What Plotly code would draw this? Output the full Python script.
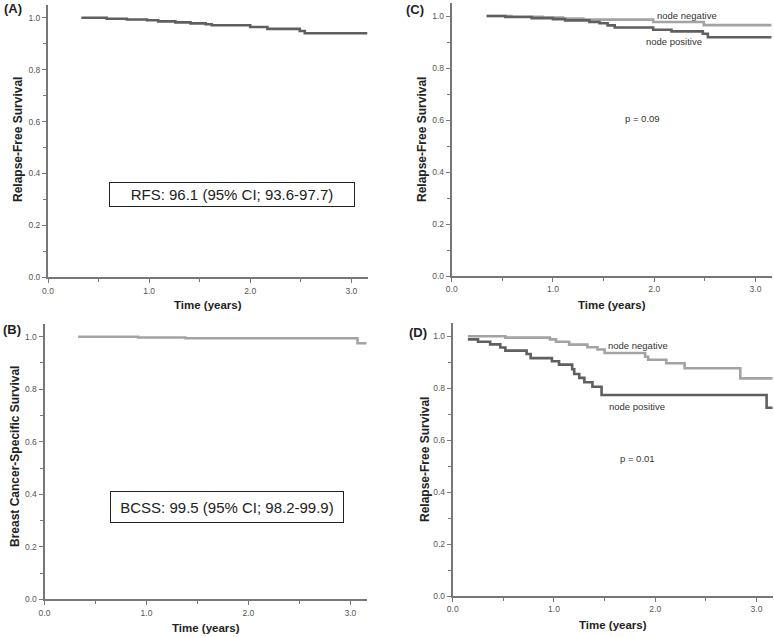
import plotly.graph_objects as go

W, H = 774, 637

# ---------------- data ----------------
a_time = [0.33, 0.58, 0.78, 0.98, 1.09, 1.26, 1.41, 1.56, 1.62, 2.00, 2.17, 2.49, 2.54, 3.16]
a_surv = [1.000, 0.996, 0.993, 0.990, 0.986, 0.982, 0.978, 0.975, 0.971, 0.964, 0.957, 0.949, 0.940, 0.940]

b_time = [0.33, 0.92, 1.38, 3.07, 3.16]
b_surv = [1.000, 0.997, 0.994, 0.975, 0.975]

c_neg_time = [0.345, 0.59, 0.90, 1.10, 1.30, 1.99, 2.49, 3.16]
c_neg_surv = [1.000, 0.997, 0.994, 0.990, 0.986, 0.977, 0.965, 0.965]
c_pos_time = [0.345, 0.53, 0.79, 1.00, 1.12, 1.36, 1.46, 1.54, 1.61, 1.99, 2.17, 2.48, 2.53, 3.16]
c_pos_surv = [1.000, 0.996, 0.992, 0.988, 0.983, 0.977, 0.972, 0.964, 0.956, 0.947, 0.941, 0.932, 0.918, 0.918]

d_neg_time = [0.15, 0.52, 0.96, 1.02, 1.15, 1.33, 1.43, 1.50, 1.90, 1.93, 2.11, 2.29, 2.84, 3.16]
d_neg_surv = [1.000, 0.995, 0.988, 0.979, 0.968, 0.958, 0.949, 0.936, 0.921, 0.910, 0.896, 0.877, 0.838, 0.838]
d_pos_time = [0.15, 0.25, 0.37, 0.47, 0.52, 0.73, 0.77, 0.98, 1.05, 1.18, 1.20, 1.25, 1.30, 1.38, 1.47, 3.10, 3.16]
d_pos_surv = [0.988, 0.979, 0.969, 0.957, 0.945, 0.932, 0.916, 0.904, 0.891, 0.873, 0.855, 0.840, 0.823, 0.806, 0.774, 0.725, 0.725]

x_tickvals = [0, 1, 2, 3]
x_ticktext = ["0.0", "1.0", "2.0", "3.0"]
y_tickvals = [0, 0.2, 0.4, 0.6, 0.8, 1.0]
y_ticktext = ["0.0", "0.2", "0.4", "0.6", "0.8", "1.0"]

DARK = "#5f5f5f"
LIGHT = "#a3a3a3"
AXC = "#777777"
FONT = "Liberation Sans, Arial, sans-serif"

def px(x):
    return x / W

def py(y):
    return 1 - y / H

# panel geometry in pixels: (x_left, x_right, y_zero_pixel, y_top_pixel)
panels = {
    "": (48, 367.5, 277.3, 277.3 - 1.05 * 259.6),
    "2": (44.5, 366.7, 599.3, 599.3 - 1.05 * 262.6),
    "3": (451.7, 771.7, 276.0, 276.0 - 1.05 * 260.0),
    "4": (452.7, 772.7, 596.0, 596.0 - 1.05 * 259.7),
}

fig = go.Figure()

def add_line(t, s, color, ax):
    fig.add_trace(go.Scatter(
        x=t, y=s, mode="lines", line=dict(color=color, width=2.6, shape="hv"),
        xaxis="x" + ax, yaxis="y" + ax, showlegend=False, hoverinfo="skip",
        cliponaxis=False))

add_line(a_time, a_surv, DARK, "")
add_line(b_time, b_surv, LIGHT, "2")
add_line(c_neg_time, c_neg_surv, LIGHT, "3")
add_line(c_pos_time, c_pos_surv, DARK, "3")
add_line(d_neg_time, d_neg_surv, LIGHT, "4")
add_line(d_pos_time, d_pos_surv, DARK, "4")

layout = dict(
    template="none",
    width=W, height=H, margin=dict(l=0, r=0, t=0, b=0, pad=0), autosize=False,
    paper_bgcolor="white", plot_bgcolor="white", showlegend=False,
)
for k, (xl, xr, y0, yt) in panels.items():
    layout["xaxis" + k] = dict(
        domain=[px(xl), px(xr)], range=[0, 3.16], anchor="y" + k, automargin=False,
        showgrid=False, zeroline=False, showline=True, linecolor=AXC, linewidth=2,
        ticks="outside", ticklen=4, tickwidth=1, tickcolor=AXC,
        tickvals=x_tickvals, ticktext=x_ticktext,
        tickfont=dict(size=8.5, color="#555555", family=FONT),
        minor=dict(ticks="outside", ticklen=3, tickwidth=1, tickcolor=AXC,
                   tickvals=[0.5, 1.5, 2.5], showgrid=False),
        fixedrange=True,
    )
    layout["yaxis" + k] = dict(
        domain=[py(y0), py(yt)], range=[0, 1.05], anchor="x" + k, automargin=False,
        showgrid=False, zeroline=False, showline=True, linecolor=AXC, linewidth=2,
        ticks="outside", ticklen=4, tickwidth=1, tickcolor=AXC,
        tickvals=y_tickvals, ticktext=y_ticktext,
        tickfont=dict(size=8.5, color="#555555", family=FONT),
        minor=dict(ticks="outside", ticklen=3, tickwidth=1, tickcolor=AXC,
                   tickvals=[0.1, 0.3, 0.5, 0.7, 0.9], showgrid=False),
        fixedrange=True,
    )
fig.update_layout(**layout)

anns = []

def text(x, y, s, size=9, bold=False, color="#333333", angle=0, **kw):
    d = dict(x=px(x), y=py(y), xref="paper", yref="paper", text=("<b>%s</b>" % s) if bold else s,
             showarrow=False, font=dict(size=size, color=color, family=FONT),
             xanchor="center", yanchor="middle", textangle=angle)
    d.update(kw)
    anns.append(d)

# panel letters
text(13, 9, "(A)", size=13, bold=True, color="#222222")
text(12, 330, "(B)", size=13, bold=True, color="#222222")
text(415, 10, "(C)", size=13, bold=True, color="#222222")
text(418, 332, "(D)", size=13, bold=True, color="#222222")

# axis titles
text(208, 305, "Time (years)", size=11.5, bold=True, color="#222222")
text(206, 628, "Time (years)", size=11.5, bold=True, color="#222222")
text(612, 305, "Time (years)", size=11.5, bold=True, color="#222222")
text(613, 625, "Time (years)", size=11.5, bold=True, color="#222222")
text(18, 140, "Relapse-Free Survival", size=12, bold=True, color="#222222", angle=-90)
text(15, 457, "Breast Cancer-Specific Survival", size=12, bold=True, color="#222222", angle=-90)
text(422, 140, "Relapse-Free Survival", size=12, bold=True, color="#222222", angle=-90)
text(425, 460, "Relapse-Free Survival", size=12, bold=True, color="#222222", angle=-90)

# boxes
text(232, 194, "RFS: 96.1 (95% CI; 93.6-97.7)", size=15, color="#222222",
     bordercolor="#222222", borderwidth=1, borderpad=2, bgcolor="white", width=240, height=19)
text(226.5, 507.5, "BCSS: 99.5 (95% CI; 98.2-99.9)", size=15, color="#222222",
     bordercolor="#222222", borderwidth=1, borderpad=4, bgcolor="white", width=224, height=22)

# group labels
text(687, 15, "node negative", size=9.5)
text(674, 42, "node positive", size=9.5)
text(642, 118, "p = 0.09", size=9.5)
text(638, 345, "node negative", size=9.5)
text(637, 406, "node positive", size=9.5)
text(637, 458, "p = 0.01", size=9.5)

fig.update_layout(annotations=anns)
fig.write_html("out.html", config={"displayModeBar": False},
               post_script="document.body.style.margin='0';document.body.style.padding='0';")
